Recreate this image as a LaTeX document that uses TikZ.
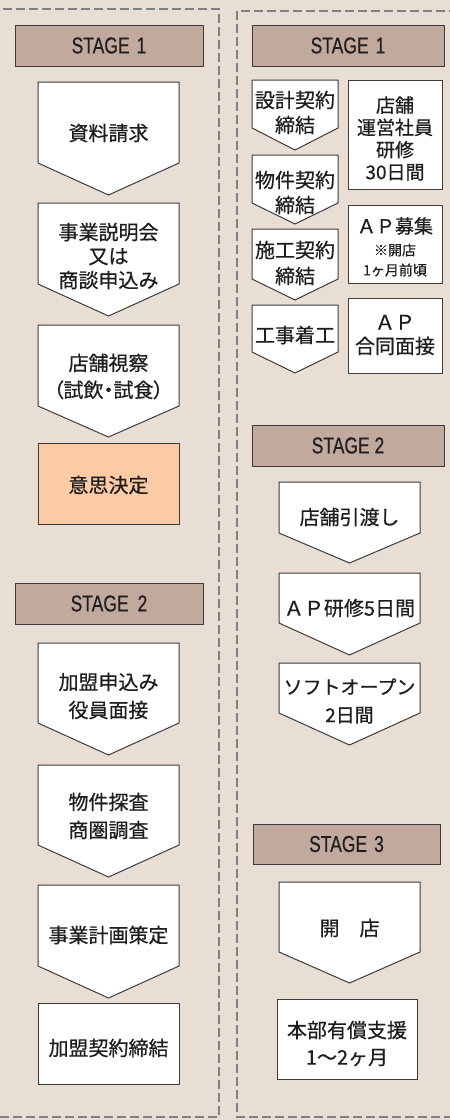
\documentclass[tikz,border=0pt]{standalone}
\usepackage{fontspec}
\setmainfont{Noto Sans CJK JP}[FakeBold=0.6]
\newfontfamily\stagefont[FakeStretch=0.76,FakeBold=0.4]{Liberation Sans}
\definecolor{bgc}{RGB}{233,222,212}
\definecolor{bordc}{RGB}{60,60,60}
\definecolor{hdrc}{RGB}{193,169,158}
\definecolor{peach}{RGB}{251,203,166}
\definecolor{txtc}{RGB}{30,30,30}
\definecolor{dashc}{RGB}{128,128,132}
\newcommand\pentpath[5]{% xl, xr, ytop, yside, ypoint
  \draw[boxline] (#1,#3) -- (#2,#3) -- (#2,#4) -- ({(#1+#2)/2},#5) -- (#1,#4) -- cycle;}
\begin{document}
\begin{tikzpicture}[x=1pt,y=-1pt,
  boxline/.style={draw=bordc, line width=1pt, fill=white, line join=miter},
  hdr/.style={draw=bordc, line width=1pt, fill=hdrc, inner sep=0pt,
     text=txtc, font=\stagefont\fontsize{23}{23}\selectfont},
  rectbox/.style={draw=bordc, line width=1pt, fill=white, inner sep=0pt},
  txt/.style={text=txtc, align=center, inner sep=0pt, font=\fontsize{20}{26}\selectfont},
  frame/.style={draw=dashc, line width=1.5pt, dash pattern=on 9pt off 4pt}]
\fill[bgc] (0,0) rectangle (450,1120);
\useasboundingbox (0,0) rectangle (450,1120);
\draw[frame] (-10,9) rectangle (219,1117);
\draw[frame] (237,11) rectangle (470,1117);

% ---------------- left column ----------------
\node[hdr, minimum width=188pt, minimum height=41pt] (hL1) at (109,45.5) {STAGE\hspace{7pt}1};
\pentpath{38}{179}{82}{163}{195}
\node[txt] (l1) at (108.5,133) {資料請求};
\pentpath{38}{179}{203}{284}{316}
\node[txt, font=\fontsize{20}{24}\selectfont] (l2) at (108.5,256) {事業説明会\\又は\\商談申込み};
\pentpath{38}{179}{325}{406}{437}
\node[txt, font=\fontsize{20}{27}\selectfont] (l3) at (108.5,376.5) {店舗視察\\\addfontfeature{RawFeature=+palt}（試飲・試食）};
\node[rectbox, fill=peach, minimum width=141pt, minimum height=81pt] (l4box) at (108.5,483.5) {};
\node[txt] (l4) at (108.5,485) {意思決定};

\node[hdr, minimum width=188pt, minimum height=41pt] (hL2) at (109,603.5) {STAGE\hspace{9pt}2};
\pentpath{38}{179}{643}{723}{755}
\node[txt, font=\fontsize{20}{28}\selectfont] (l5) at (108.5,696) {加盟申込み\\役員面接};
\pentpath{38}{179}{765}{845}{877}
\node[txt, font=\fontsize{20}{28}\selectfont] (l6) at (108.5,816) {物件探査\\商圏調査};
\pentpath{38}{179}{885}{966}{998}
\node[txt] (l7) at (108.5,935) {事業計画策定};
\node[rectbox, minimum width=141pt, minimum height=81pt] (l8box) at (108.5,1043.5) {};
\node[txt] (l8) at (108.5,1048) {加盟契約締結};

% ---------------- right column ----------------
\node[hdr, minimum width=192pt, minimum height=41pt] (hR1) at (348,45.5) {STAGE\hspace{7pt}1};
\pentpath{252}{338}{80}{128}{150}
\node[txt, font=\fontsize{20}{25}\selectfont] (s1) at (295,112.5) {設計契約\\締結};
\pentpath{252}{338}{155}{203}{224}
\node[txt, font=\fontsize{20}{25}\selectfont] (s2) at (295,192.5) {物件契約\\締結};
\pentpath{252}{338}{229}{279}{300}
\node[txt, font=\fontsize{20}{26}\selectfont] (s3) at (295,263) {施工契約\\締結};
\pentpath{252}{338}{305}{352}{373}
\node[txt] (s4) at (295,335) {工事着工};

\node[rectbox, minimum width=94pt, minimum height=109pt] (b1box) at (395,134.5) {};
\node[txt, font=\fontsize{19}{22.3}\selectfont] (b1) at (395,138.5) {店舗\\運営社員\\研修\\30日間};
\node[rectbox, minimum width=94pt, minimum height=78pt] (b2box) at (395,244) {};
\node[txt, font=\fontsize{19}{22}\selectfont] (b2a) at (395,226) {ＡＰ募集};
\node[txt, font=\fontsize{14}{20}\selectfont] (b2b) at (395,260) {※開店\\1ヶ月前頃};
\node[rectbox, minimum width=94pt, minimum height=75pt] (b3box) at (395,335.5) {};
\node[txt, font=\fontsize{20}{24}\selectfont] (b3) at (395,335) {ＡＰ\\合同面接};

\node[hdr, minimum width=192pt, minimum height=41pt] (hR2) at (348,445.5) {STAGE 2};
\pentpath{279}{420}{482}{533}{563}
\node[txt] (q1) at (349.5,517) {店舗引渡し};
\pentpath{279}{420}{573}{623}{655}
\node[txt] (q2) at (349.5,608) {ＡＰ研修5日間};
\pentpath{279}{420}{663}{713}{745}
\node[txt, font=\fontsize{19}{28}\selectfont] (q3) at (349.5,701) {ソフトオープン\\2日間};

\node[hdr, minimum width=187pt, minimum height=40pt] (hR3) at (346.5,844) {STAGE\hspace{7pt}3};
\pentpath{279}{420}{882}{952}{983}
\node[txt] (q4) at (349.5,928) {開　店};
\node[rectbox, minimum width=140pt, minimum height=80pt] (q5box) at (347,1039) {};
\node[txt, font=\fontsize{20}{27}\selectfont] (q5) at (347,1043.5) {本部有償支援\\1〜2ヶ月};
\end{tikzpicture}
\end{document}
